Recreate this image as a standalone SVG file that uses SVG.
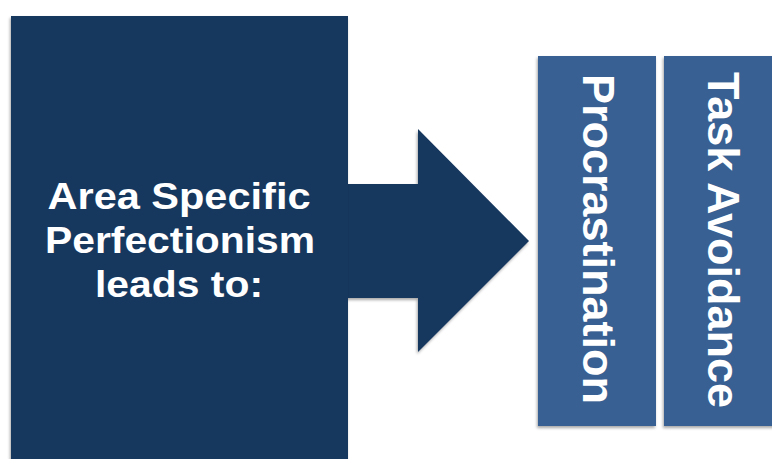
<svg xmlns="http://www.w3.org/2000/svg" width="772" height="459" viewBox="0 0 772 459">
  <defs>
    <filter id="shadow" x="-10%" y="-10%" width="120%" height="120%">
      <feGaussianBlur in="SourceAlpha" stdDeviation="1.5"/>
      <feOffset dx="-1" dy="2" result="off"/>
      <feComponentTransfer><feFuncA type="linear" slope="0.35"/></feComponentTransfer>
      <feMerge><feMergeNode/><feMergeNode in="SourceGraphic"/></feMerge>
    </filter>
  </defs>
  <style>
    .navy { fill: #17375e; }
    .blue { fill: #376092; }
    .label { fill: #ffffff; font-family: "Liberation Sans", Arial, sans-serif; font-weight: bold; text-anchor: middle; }
  </style>
  <rect width="772" height="459" fill="#ffffff"/>

  <g id="connectors">
    <polygon class="navy" filter="url(#shadow)" points="340,184 418,184 418,129 529,241 418,352 418,298 340,298"/>
  </g>

  <g id="source">
    <rect class="navy" filter="url(#shadow)" x="11" y="16" width="337" height="460"/>
    <text class="label" font-size="37" x="179" y="209" textLength="263" lengthAdjust="spacingAndGlyphs">Area Specific</text>
    <text class="label" font-size="37" x="180" y="253" textLength="270" lengthAdjust="spacingAndGlyphs">Perfectionism</text>
    <text class="label" font-size="37" x="179" y="297" textLength="168" lengthAdjust="spacingAndGlyphs">leads to:</text>
  </g>

  <g id="procrastination">
    <rect class="blue" filter="url(#shadow)" x="538" y="56" width="118" height="370"/>
    <text class="label" font-size="45" transform="translate(583,239) rotate(90)">Procrastination</text>
  </g>

  <g id="task-avoidance">
    <rect class="blue" filter="url(#shadow)" x="664" y="56" width="120" height="370"/>
    <text class="label" font-size="45" transform="translate(708,240) rotate(90)">Task Avoidance</text>
  </g>
</svg>
